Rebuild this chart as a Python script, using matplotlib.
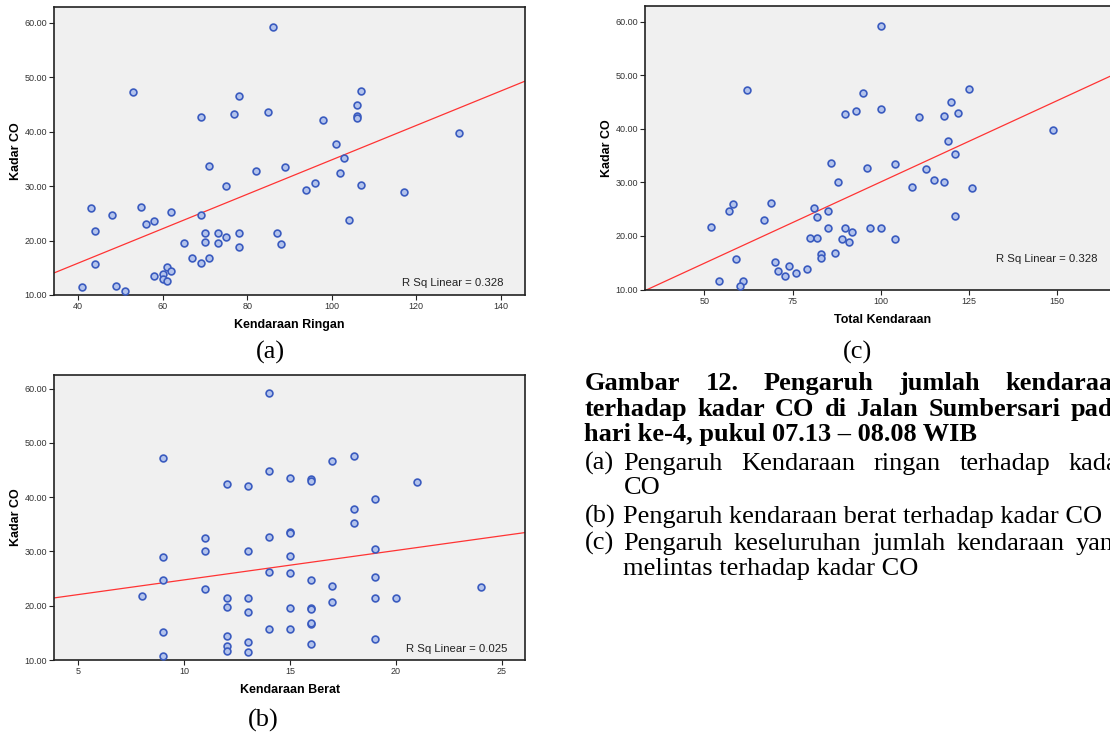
import numpy as np
import matplotlib
matplotlib.use("Agg")
import matplotlib.pyplot as plt

kendaraan_ringan = [86, 53, 78, 107, 106, 85, 77, 106, 106, 98, 69, 130, 101, 103, 102,
                    82, 71, 89, 107, 75, 96, 117, 94, 55, 43, 48, 69, 62, 104, 58,
                    56, 44, 70, 73, 78, 87, 65, 70, 73, 88, 78, 75, 67, 71, 69,
                    44, 61, 62, 58, 60, 60, 61, 41, 49, 51]
kendaraan_berat = [14, 9, 17, 18, 14, 15, 16, 16, 12, 13, 21, 19, 18, 18, 11,
                   14, 15, 15, 11, 13, 19, 9, 15, 14, 15, 9, 16, 19, 17, 24,
                   11, 8, 20, 12, 19, 13, 15, 12, 16, 16, 13, 17, 16, 16, 14,
                   15, 9, 12, 13, 19, 16, 12, 13, 12, 9]
kadar_co = [59.2, 47.3, 46.6, 47.5, 44.9, 43.6, 43.3, 42.9, 42.4, 42.1, 42.7, 39.7, 37.8, 35.2, 32.4,
            32.7, 33.6, 33.4, 30.1, 30.0, 30.5, 28.9, 29.2, 26.2, 26.0, 24.7, 24.7, 25.3, 23.7, 23.5,
            23.0, 21.7, 21.4, 21.4, 21.4, 21.4, 19.6, 19.7, 19.5, 19.4, 18.8, 20.7, 16.7, 16.8, 15.8,
            15.7, 15.2, 14.4, 13.4, 13.9, 13.0, 12.6, 11.5, 11.6, 10.7]
total_kendaraan = list(np.array(kendaraan_ringan) + np.array(kendaraan_berat))

y_ticks = [10, 20, 30, 40, 50, 60]
r_sq_text = {"a": "R Sq Linear = 0.328", "b": "R Sq Linear = 0.025", "c": "R Sq Linear = 0.328"}

W, H = 1110, 733
fig = plt.figure(figsize=(W / 100, H / 100), dpi=100)
fig.patch.set_facecolor("white")
plt.rcParams["font.family"] = ["Liberation Sans", "DejaVu Sans"]


def fx(x):
    return x / W


def fy(y):
    return 1 - y / H


def buat_panel(box, x, y, xlim, ylim, xticks, xlabel, rsq, rsq_pos):
    l, t, r, b = box
    ax = fig.add_axes([fx(l), fy(b), (r - l) / W, (b - t) / H])
    ax.set_facecolor("#f0f0f0")
    ax.scatter(x, y, s=24, facecolor="#b3c3ec", edgecolor="#3a5bbf", linewidth=1.2, zorder=3)
    k, c = np.polyfit(x, y, 1)
    xs = np.array(xlim)
    ax.plot(xs, k * xs + c, color="#ff3333", lw=0.9, zorder=2)
    ax.set_xlim(xlim)
    ax.set_ylim(ylim)
    ax.set_xticks(xticks)
    ax.set_yticks(y_ticks)
    ax.set_yticklabels([f"{v:.2f}" for v in y_ticks])
    ax.tick_params(length=3.6, width=0.8, pad=1.5, labelsize=6.5, colors="#222222",
                   labelcolor="#333333")
    for s in ax.spines.values():
        s.set_linewidth(1.2)
        s.set_color("#222222")
    ax.set_xlabel(xlabel, fontsize=9, fontweight="bold", labelpad=6)
    ax.set_ylabel("Kadar CO", fontsize=9, fontweight="bold", labelpad=2)
    fig.text(fx(rsq_pos[0]), fy(rsq_pos[1]), rsq, fontsize=8.2, color="#222222",
             ha="right", va="baseline")
    return ax


buat_panel((54.3, 7.3, 525, 295), kendaraan_ringan, kadar_co, (34.4, 145.7), (10, 62.8),
           [40, 60, 80, 100, 120, 140], "Kendaraan Ringan", r_sq_text["a"], (503, 286))
buat_panel((54.3, 375, 525, 660), kendaraan_berat, kadar_co, (3.86, 26.1), (10, 62.5),
           [5, 10, 15, 20, 25], "Kendaraan Berat", r_sq_text["b"], (507, 652))
buat_panel((645.2, 6, 1120, 289.5), total_kendaraan, kadar_co, (33.2, 167.9), (10, 62.9),
           [50, 75, 100, 125, 150], "Total Kendaraan", r_sq_text["c"], (1097, 262))

serif = ["Liberation Serif", "DejaVu Serif"]
fs = 19

# panel labels
for lab, (x, y) in {"(a)": (270, 359), "(b)": (263, 727), "(c)": (857, 359)}.items():
    fig.text(fx(x), fy(y), lab, family=serif, fontsize=fs, ha="center", va="baseline")

# caption column: left edge, hanging indent, right edge (beyond the cut picture)
kiri, indent, kanan = 584.5, 623.4, 1127
renderer = fig.canvas.get_renderer()


def tulis(teks, x, y, w="normal", rata=False):
    # rata=True: justify the words between x and the right column edge
    if not rata:
        fig.text(fx(x), fy(y), teks, family=serif, fontsize=fs, fontweight=w,
                 ha="left", va="baseline")
        return
    kata = teks.split()
    objs = [fig.text(0, 0, k, family=serif, fontsize=fs, fontweight=w, va="baseline")
            for k in kata]
    lebar = [o.get_window_extent(renderer).width for o in objs]
    gap = (kanan - x - sum(lebar)) / (len(kata) - 1)
    pos = x
    for o, lb in zip(objs, lebar):
        o.set_position((fx(pos), fy(y)))
        pos += lb + gap


tulis("Gambar 12. Pengaruh jumlah kendaraan", kiri, 390, "bold", rata=True)
tulis("terhadap kadar CO di Jalan Sumbersari pada", kiri, 416, "bold", rata=True)
tulis("hari ke-4, pukul 07.13 \u2013 08.08 WIB", kiri, 441, "bold")
tulis("(a)", kiri, 470)
tulis("Pengaruh Kendaraan ringan terhadap kadar", indent, 470, rata=True)
tulis("CO", indent, 494)
tulis("(b)", kiri, 523)
tulis("Pengaruh kendaraan berat terhadap kadar CO", indent, 523)
tulis("(c)", kiri, 550)
tulis("Pengaruh keseluruhan jumlah kendaraan yang", indent, 550, rata=True)
tulis("melintas terhadap kadar CO", indent, 575)

fig.savefig("out.png", dpi=100)
